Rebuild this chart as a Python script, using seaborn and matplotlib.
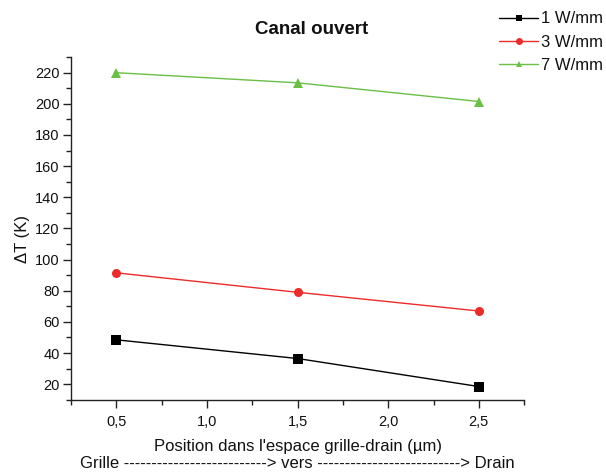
import matplotlib
matplotlib.use("Agg")
import matplotlib.pyplot as plt
from matplotlib.lines import Line2D
import seaborn as sns
import pandas as pd
from matplotlib.ticker import MultipleLocator, FuncFormatter

positions = [0.5, 1.5, 2.5]
series_names = ["1 W/mm", "3 W/mm", "7 W/mm"]
dt_1w = [48.5, 36.5, 18.5]
dt_3w = [91.5, 79.0, 67.0]
dt_7w = [220.0, 213.5, 201.5]

colors = ["#000000", "#ee2b2b", "#6abf45"]
markers = ["s", "o", "^"]

rows = []
for name, vals in zip(series_names, [dt_1w, dt_3w, dt_7w]):
    for x, v in zip(positions, vals):
        rows.append({"x": x, "y": v, "serie": name})
df = pd.DataFrame(rows)

sns.set_style("ticks")
plt.rcParams["font.family"] = ["Liberation Sans", "DejaVu Sans"]

fig = plt.figure(figsize=(6.06, 4.72), dpi=100)
ax = fig.add_axes([0.117, 0.153, 0.748, 0.726])

sns.lineplot(data=df, x="x", y="y", hue="serie", style="serie",
             palette=colors, markers=markers, dashes=False,
             markersize=6.5, linewidth=1.0, markeredgewidth=0,
             ax=ax, legend=False)

ax.set_xlim(0.25, 2.75)
ax.set_ylim(10, 230)
ax.xaxis.set_major_locator(MultipleLocator(0.5))
ax.xaxis.set_minor_locator(MultipleLocator(0.25))
ax.yaxis.set_major_locator(MultipleLocator(20))
ax.yaxis.set_minor_locator(MultipleLocator(10))
ax.set_xticks([0.5, 1.0, 1.5, 2.0, 2.5])
ax.xaxis.set_major_formatter(FuncFormatter(lambda v, p: f"{v:.1f}".replace(".", ",")))
ax.yaxis.set_major_formatter(FuncFormatter(lambda v, p: f"{int(v)}"))
ax.tick_params(axis="both", which="major", direction="out", length=6, width=1,
               labelsize=10.5, colors="#222222", labelcolor="#111111", pad=2)
ax.tick_params(axis="x", which="major", pad=5)
ax.tick_params(axis="both", which="minor", direction="out", length=3.5, width=1, colors="#222222")
for s in ["top", "right"]:
    ax.spines[s].set_visible(False)
for s in ["left", "bottom"]:
    ax.spines[s].set_linewidth(1.0)
    ax.spines[s].set_color("#222222")

ax.set_xlabel("Position dans l'espace grille-drain (µm)\n"
              "Grille --------------------------> vers --------------------------> Drain",
              fontsize=12, linespacing=1.2, labelpad=7, color="#111111")
ax.set_ylabel("ΔT (K)", fontsize=12, color="#111111")
ax.yaxis.set_label_coords(-0.09, 0.47)

fig.text(0.515, 0.937, "Canal ouvert", ha="center", va="center",
         fontsize=13.5, fontweight="bold", color="#111111")

handles = [Line2D([0], [0], color=c, marker=m, markersize=5, markeredgewidth=0, linewidth=1.0)
           for c, m in zip(colors, markers)]
leg = fig.legend(handles, series_names, loc="upper left", bbox_to_anchor=(0.813, 0.99),
                 frameon=False, fontsize=12, handlelength=2.3, handletextpad=0.2,
                 labelspacing=0.5, borderaxespad=0, numpoints=1)
for t in leg.get_texts():
    t.set_color("#111111")

fig.savefig("out.png", dpi=100)
